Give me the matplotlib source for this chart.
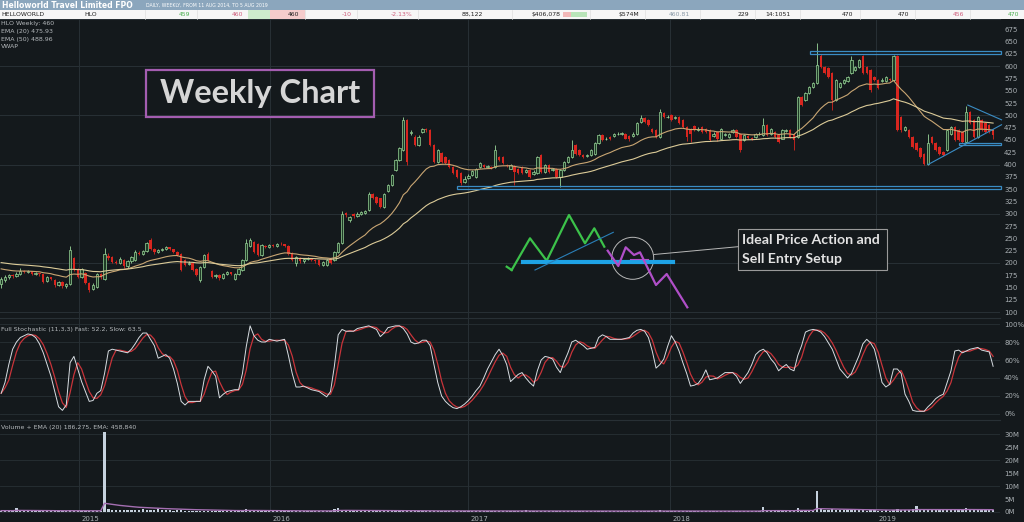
import datetime as dt
import numpy as np
import pandas as pd
import matplotlib
matplotlib.use("Agg")
import matplotlib.pyplot as plt
from matplotlib.patches import Rectangle, Circle

# weekly HLO candles, 11 Aug 2014 .. 5 Aug 2019
opens = [158, 166, 172, 175, 173, 178, 184, 182, 183, 178,
         179, 177, 163, 171, 166, 156, 162, 153, 158, 210,
         188, 172, 180, 160, 146, 152, 177, 167, 215, 212,
         202, 200, 206, 193, 203, 206, 221, 219, 225, 246,
         228, 222, 226, 229, 232, 228, 223, 219, 205, 198,
         200, 188, 165, 192, 218, 183, 174, 176, 170, 178,
         181, 168, 178, 186, 205, 235, 243, 238, 217, 235,
         233, 236, 235, 239, 238, 234, 221, 199, 211, 204,
         208, 209, 205, 205, 196, 195, 207, 205, 222, 240,
         301, 288, 299, 296, 300, 302, 307, 341, 335, 331,
         314, 346, 358, 389, 409, 430, 491, 465, 457, 440,
         467, 472, 470, 440, 406, 423, 416, 409, 396, 389,
         382, 365, 372, 379, 375, 396, 400, 396, 395, 396,
         416, 416, 400, 392, 397, 392, 395, 385, 388, 380,
         382, 419, 385, 399, 388, 392, 375, 388, 405, 416,
         439, 429, 420, 417, 419, 422, 443, 460, 451, 456,
         458, 462, 463, 463, 458, 458, 463, 487, 494, 490,
         473, 470, 456, 504, 496, 500, 494, 497, 490, 477,
         473, 478, 470, 476, 473, 470, 458, 467, 453, 460,
         456, 467, 470, 463, 450, 458, 454, 456, 462, 460,
         480, 463, 467, 460, 453, 469, 470, 463, 456, 538,
         531, 545, 558, 565, 620, 599, 596, 586, 531, 558,
         565, 569, 586, 592, 599, 620, 599, 592, 579, 572,
         570, 569, 574, 572, 620, 497, 470, 470, 456, 443,
         433, 422, 402, 456, 443, 436, 426, 429, 463, 477,
         470, 467, 446, 507, 490, 456, 490, 484, 480, 470]
highs = [172, 175, 178, 178, 182, 190, 186, 185, 184, 181,
         180, 178, 174, 172, 167, 164, 163, 160, 234, 212,
         190, 190, 182, 162, 160, 180, 180, 230, 220, 214,
         206, 212, 208, 205, 214, 226, 224, 226, 242, 250,
         230, 228, 231, 234, 233, 229, 224, 221, 207, 203,
         201, 190, 194, 218, 222, 186, 178, 177, 180, 184,
         182, 180, 190, 207, 248, 250, 245, 240, 238, 237,
         238, 238, 241, 242, 239, 236, 223, 214, 213, 210,
         212, 211, 208, 206, 204, 207, 209, 224, 242, 305,
         304, 296, 302, 303, 306, 307, 345, 343, 337, 333,
         343, 361, 381, 411, 436, 497, 493, 470, 460, 460,
         475, 474, 472, 442, 432, 425, 418, 411, 398, 391,
         384, 376, 380, 388, 394, 405, 402, 399, 398, 440,
         418, 418, 402, 401, 399, 394, 397, 392, 390, 388,
         418, 421, 401, 401, 394, 394, 390, 407, 418, 450,
         441, 431, 422, 421, 431, 445, 462, 462, 456, 458,
         465, 466, 466, 465, 460, 466, 486, 500, 496, 492,
         475, 472, 512, 506, 500, 502, 499, 499, 492, 479,
         475, 480, 476, 478, 475, 472, 466, 469, 475, 465,
         464, 472, 472, 465, 462, 460, 456, 465, 466, 494,
         482, 475, 469, 462, 472, 472, 472, 465, 540, 540,
         547, 560, 567, 647, 625, 601, 598, 588, 574, 567,
         574, 581, 620, 601, 615, 622, 601, 594, 581, 574,
         576, 581, 576, 622, 622, 499, 479, 472, 458, 445,
         435, 424, 463, 458, 445, 438, 428, 472, 479, 479,
         472, 469, 520, 509, 492, 499, 492, 486, 482, 472]
lows = [150, 162, 168, 170, 171, 176, 179, 179, 176, 175,
        174, 160, 161, 165, 152, 153, 150, 148, 156, 183,
        170, 170, 157, 140, 144, 150, 168, 165, 206, 200,
        197, 198, 190, 190, 200, 204, 216, 217, 223, 226,
        218, 220, 224, 227, 226, 221, 214, 183, 194, 196,
        183, 173, 162, 190, 203, 169, 170, 166, 168, 176,
        175, 165, 176, 184, 203, 232, 220, 214, 215, 230,
        231, 233, 233, 236, 233, 217, 203, 194, 200, 200,
        205, 203, 200, 193, 194, 193, 198, 203, 220, 238,
        294, 284, 292, 294, 298, 300, 305, 329, 319, 312,
        312, 344, 356, 387, 407, 428, 400, 460, 438, 438,
        465, 466, 438, 404, 404, 404, 401, 394, 380, 373,
        358, 362, 370, 377, 372, 394, 393, 393, 390, 394,
        407, 401, 395, 390, 358, 380, 380, 383, 373, 378,
        380, 383, 383, 383, 386, 373, 354, 386, 403, 414,
        420, 417, 413, 415, 417, 420, 441, 448, 449, 449,
        456, 460, 460, 451, 448, 456, 461, 485, 485, 478,
        465, 454, 454, 495, 494, 488, 492, 482, 475, 448,
        446, 468, 468, 465, 465, 448, 456, 448, 451, 458,
        454, 465, 454, 426, 448, 452, 450, 454, 460, 458,
        458, 461, 454, 444, 451, 467, 454, 429, 454, 519,
        529, 543, 556, 563, 597, 584, 577, 510, 529, 556,
        563, 567, 584, 590, 597, 584, 584, 548, 570, 553,
        568, 567, 570, 570, 468, 466, 468, 454, 434, 427,
        414, 400, 400, 441, 427, 420, 417, 427, 461, 448,
        448, 444, 444, 482, 454, 454, 468, 465, 464, 452]
closes = [168, 172, 175, 173, 178, 184, 182, 183, 178, 179,
          177, 162, 171, 167, 155, 161, 153, 158, 226, 188,
          172, 187, 159, 145, 155, 178, 172, 219, 211, 202,
          200, 208, 193, 203, 212, 222, 219, 224, 240, 229,
          222, 226, 229, 232, 228, 223, 217, 186, 196, 200,
          186, 176, 192, 216, 206, 172, 175, 169, 178, 181,
          177, 178, 188, 205, 241, 246, 223, 217, 236, 233,
          236, 235, 239, 238, 235, 219, 206, 212, 203, 208,
          210, 205, 204, 195, 201, 205, 200, 222, 240, 300,
          297, 294, 295, 300, 303, 305, 341, 331, 321, 314,
          341, 358, 379, 409, 433, 491, 406, 467, 440, 457,
          472, 470, 440, 406, 430, 406, 403, 396, 382, 375,
          362, 370, 377, 386, 392, 403, 396, 397, 394, 430,
          409, 403, 397, 399, 385, 382, 382, 388, 375, 385,
          416, 385, 399, 385, 392, 375, 388, 405, 416, 429,
          422, 419, 415, 419, 429, 443, 460, 450, 453, 451,
          463, 463, 464, 453, 451, 463, 484, 494, 487, 480,
          467, 456, 507, 497, 497, 490, 497, 484, 477, 456,
          463, 470, 473, 467, 467, 450, 463, 451, 473, 462,
          462, 470, 456, 429, 460, 455, 453, 463, 463, 480,
          460, 473, 456, 446, 470, 470, 456, 450, 538, 521,
          545, 558, 565, 603, 599, 586, 579, 531, 572, 565,
          572, 579, 613, 599, 613, 586, 586, 552, 572, 555,
          572, 579, 572, 620, 470, 470, 477, 456, 436, 429,
          416, 402, 443, 443, 429, 422, 419, 470, 477, 450,
          450, 446, 507, 484, 456, 497, 470, 467, 466, 460]

# full stochastic fast line (%), read per week
stoch_fast = [23, 35, 55, 72, 80, 85, 87, 89, 88, 85,
              78, 68, 55, 42, 25, 8, 4, 10, 57, 64,
              50, 36, 25, 14, 15, 23, 26, 45, 70, 72,
              71, 70, 69, 68, 72, 78, 85, 90, 90, 83,
              76, 62, 64, 66, 62, 50, 34, 14, 10, 14,
              14, 14, 14, 38, 53, 48, 42, 18, 22, 25,
              26, 27, 27, 45, 75, 98, 87, 82, 80, 80,
              83, 82, 81, 82, 83, 65, 45, 30, 30, 31,
              29, 27, 26, 25, 22, 19, 25, 53, 88, 94,
              92, 92, 92, 95, 96, 97, 98, 96, 94, 86,
              90, 96, 97, 98, 98, 95, 89, 80, 78, 79,
              82, 82, 76, 55, 35, 20, 14, 10, 7, 6,
              8, 11, 15, 20, 26, 31, 40, 50, 58, 66,
              72, 65, 55, 36, 40, 44, 46, 40, 35, 31,
              48, 60, 64, 63, 61, 52, 46, 58, 68, 80,
              82, 79, 76, 72, 73, 74, 85, 88, 86, 83,
              83, 83, 83, 84, 85, 90, 93, 94, 92, 85,
              70, 51, 55, 61, 75, 87, 80, 70, 57, 45,
              31, 32, 34, 40, 49, 38, 39, 40, 43, 46,
              46, 46, 42, 34, 40, 46, 55, 66, 70, 72,
              68, 61, 56, 48, 52, 55, 50, 48, 65, 76,
              91, 93, 94, 93, 91, 86, 79, 72, 61, 50,
              45, 40, 45, 55, 65, 78, 83, 79, 72, 55,
              35, 30, 33, 50, 50, 45, 22, 14, 4, 3,
              3, 3, 8, 12, 17, 20, 22, 35, 48, 70,
              71, 68, 70, 72, 73, 74, 71, 70, 69, 53]

# weekly volume, millions of shares
volume_m = [0.5, 0.6, 0.4, 0.5, 1.5, 0.6, 0.5, 0.4, 0.5, 0.4,
            0.4, 0.5, 0.3, 0.4, 0.5, 0.4, 0.3, 0.4, 0.6, 0.5,
            0.4, 0.3, 0.4, 0.5, 0.4, 0.3, 0.4, 31.0, 1.2, 0.9,
            0.8, 0.7, 0.9, 0.6, 0.8, 0.7, 0.6, 1.0, 0.8, 0.7,
            0.6, 1.1, 0.7, 0.6, 0.8, 0.5, 0.6, 0.7, 0.5, 0.4,
            0.5, 0.4, 0.5, 0.4, 0.3, 0.4, 0.3, 0.4, 0.3, 0.4,
            0.3, 0.4, 0.4, 0.5, 1.1, 0.6, 0.5, 0.4, 0.5, 0.4,
            0.4, 0.3, 0.4, 0.3, 0.4, 0.3, 0.4, 0.5, 0.3, 0.3,
            0.4, 0.3, 0.3, 0.4, 0.3, 0.4, 0.5, 1.0, 1.6, 0.9,
            0.6, 0.5, 0.4, 0.5, 0.4, 0.3, 0.5, 0.4, 0.4, 0.3,
            0.4, 0.3, 0.5, 0.6, 0.4, 0.8, 0.5, 0.4, 0.3, 0.4,
            0.3, 0.4, 0.3, 0.4, 0.3, 0.3, 0.4, 0.3, 0.4, 0.3,
            0.3, 0.4, 0.3, 0.3, 0.4, 0.5, 0.3, 0.3, 0.4, 0.3,
            0.5, 0.3, 0.4, 0.3, 0.4, 0.3, 0.3, 0.6, 0.3, 0.4,
            0.3, 0.4, 0.3, 0.3, 0.5, 0.3, 0.3, 0.4, 0.3, 0.3,
            0.4, 0.3, 0.3, 0.5, 0.3, 0.3, 0.4, 0.3, 0.3, 0.4,
            0.3, 0.3, 0.4, 0.3, 0.5, 0.3, 0.3, 0.4, 0.5, 0.3,
            0.3, 0.4, 0.6, 0.3, 0.3, 0.4, 0.3, 0.3, 0.3, 0.4,
            0.3, 0.3, 0.3, 0.4, 0.3, 0.3, 0.3, 0.4, 0.3, 0.3,
            0.3, 0.3, 0.4, 0.5, 0.3, 0.3, 0.3, 0.4, 0.3, 2.0,
            0.6, 0.5, 0.6, 0.5, 0.4, 0.4, 0.4, 0.5, 1.6, 0.6,
            0.5, 0.6, 0.7, 7.9, 1.0, 0.9, 0.8, 1.2, 0.7, 0.6,
            0.7, 0.6, 0.8, 0.6, 0.7, 0.6, 0.5, 0.8, 0.6, 0.5,
            0.5, 0.6, 0.5, 0.7, 1.1, 0.9, 0.7, 0.6, 1.0, 2.3,
            0.9, 0.8, 1.0, 0.8, 0.9, 0.7, 0.8, 1.0, 0.8, 0.9,
            1.1, 0.8, 1.4, 0.9, 0.8, 0.9, 0.8, 0.7, 0.8, 0.6]

years = [2015, 2016, 2017, 2018, 2019]
year_weeks = [20.4, 70.3, 122.0, 174.7, 228.5]   # where the year breaks sit on the week axis
ema20_start, ema50_start, vol_ema_start = 190, 202, 0.5

price_ticks = list(range(100, 700, 25))
stoch_ticks = [0, 20, 40, 60, 80, 100]
vol_ticks = [0, 5, 10, 15, 20, 25, 30]


def ema(values, span, seed):
    alpha = 2.0 / (span + 1)
    out, e = [], seed
    for v in values:
        e = e + alpha * (v - e)
        out.append(e)
    return np.array(out)


o = np.array(opens, float)
h = np.array(highs, float)
l = np.array(lows, float)
c = np.array(closes, float)
wk = np.arange(len(c))
up = c >= o
ema20 = ema(c, 20, ema20_start)
ema50 = ema(c, 50, ema50_start)
fast = np.array(stoch_fast, float)
slow = pd.Series(fast).rolling(3, min_periods=1).mean().values
vol = np.array(volume_m)
vol_ema = ema(vol, 20, vol_ema_start)

BG = "#14191c"
GRID = "#283035"
TXT = "#a9afb3"
GREEN = "#9ad89a"
RED = "#d8261f"
BLUE = "#3a8cc4"

W, H = 1024, 522
XMIN, XMAX = -0.3, 260.8
fig = plt.figure(figsize=(W / 100, H / 100), dpi=100, facecolor=BG)


def px_axes(x0, y0, x1, y1):
    return fig.add_axes([x0 / W, 1 - y1 / H, (x1 - x0) / W, (y1 - y0) / H])


ax = px_axes(0, 19, 1000, 318)
ax_st = px_axes(0, 318, 1000, 420)
ax_v = px_axes(0, 420, 1000, 513)

for a in (ax, ax_st, ax_v):
    a.set_facecolor(BG)
    a.set_xlim(XMIN, XMAX)
    a.set_xticks([])
    for s in a.spines.values():
        s.set_visible(False)
    a.spines["top"].set_visible(True)
    a.spines["top"].set_color(GRID)
    a.yaxis.tick_right()
    a.tick_params(axis="y", length=0, pad=3, labelsize=5, labelcolor=TXT)
    for yx in year_weeks:
        a.axvline(yx, color=GRID, lw=0.7, zorder=0)

# price panel
ax.set_ylim(88, 696)
ax.set_yticks(price_ticks)
ax.set_yticklabels([str(t) for t in price_ticks])
for g in range(100, 700, 100):
    ax.axhline(g, color=GRID, lw=0.7, zorder=0)

ax.vlines(wk, l, h, colors=np.where(up, GREEN, RED), lw=0.6, zorder=2)
ax.bar(wk[up], (c - o)[up], bottom=o[up], width=0.62, facecolor="#1d3a25",
       edgecolor=GREEN, lw=0.5, zorder=3)
ax.bar(wk[~up], (o - c)[~up], bottom=c[~up], width=0.62, color=RED, lw=0, zorder=3)
ax.plot(wk, ema20, color="#c9a673", lw=0.8, zorder=4)
ax.plot(wk, ema50, color="#dccb98", lw=0.8, zorder=4)

# support / resistance boxes and triangle
ax.add_patch(Rectangle((211.2, 624.5), 49.8, 5.5, fill=False, edgecolor=BLUE, lw=0.9, clip_on=False, zorder=5))
ax.add_patch(Rectangle((119.0, 351.0), 142.0, 6.0, fill=False, edgecolor=BLUE, lw=0.9, clip_on=False, zorder=5))
ax.add_patch(Rectangle((250.1, 440.0), 10.9, 4.0, fill=False, edgecolor=BLUE, lw=0.9, clip_on=False, zorder=5))
ax.plot([252.4, 261.2], [521, 491], color=BLUE, lw=0.8, clip_on=False, zorder=5)
ax.plot([242.0, 261.2], [400, 481], color=BLUE, lw=0.8, clip_on=False, zorder=5)

# stochastic panel
ax_st.set_ylim(-6.7, 106.7)
ax_st.set_yticks(stoch_ticks)
ax_st.set_yticklabels([f"{t}%" for t in stoch_ticks])
for g in stoch_ticks:
    ax_st.axhline(g, color=GRID, lw=0.6, zorder=0)
ax_st.plot(wk, slow, color="#c8343a", lw=0.9)
ax_st.plot(wk, fast, color="#d8dde2", lw=0.7)

# volume panel
ax_v.set_ylim(-0.4, 35.5)
ax_v.set_yticks(vol_ticks)
ax_v.set_yticklabels([f"{t}M" for t in vol_ticks])
for g in (0, 10, 20, 30):
    ax_v.axhline(g, color=GRID, lw=0.6, zorder=0)
ax_v.bar(wk, vol, width=0.6, color="#c6d2de", lw=0, zorder=2)
ax_v.plot(wk, vol_ema, color="#a56fb2", lw=1.0, zorder=3)
for yx, y in zip(year_weeks, years):
    ax_v.annotate(str(y), (yx, 0), xycoords=("data", "axes fraction"),
                  xytext=(1.5, -4.5), textcoords="offset points",
                  fontsize=5, color=TXT, va="center", annotation_clip=False)

# overlay in pixel coordinates for header and hand drawn notes
ov = fig.add_axes([0, 0, 1, 1], zorder=10)
ov.set_xlim(0, W)
ov.set_ylim(H, 0)
ov.axis("off")
ov.patch.set_alpha(0)

ov.add_patch(Rectangle((0, 0), W, 9.5, color="#8ba6bd", lw=0))
ov.text(2, 5, "Helloworld Travel Limited FPO", fontsize=5.5, fontweight="bold",
        color="white", va="center")
ov.text(146, 5.2, "DAILY, WEEKLY, FROM 11 AUG 2014, TO 5 AUG 2019", fontsize=3.3,
        color="white", va="center")
ov.add_patch(Rectangle((0, 10), W, 8.5, color="#f6f6f6", lw=0))
ov.add_patch(Rectangle((248, 10), 22, 8.5, color="#cdeccd", lw=0))
ov.add_patch(Rectangle((270, 10), 35, 8.5, color="#f5cccc", lw=0))
for sx in (145, 197, 305, 357, 418, 512, 590, 645, 700, 755, 800, 860, 915, 970):
    ov.plot([sx, sx], [10, 18.5], color="#dedede", lw=0.5)
ov.add_patch(Rectangle((563, 11.5), 8, 5.5, color="#f2b8b8", lw=0))
ov.add_patch(Rectangle((571, 11.5), 16, 5.5, color="#b8e4b8", lw=0))

GRN_T, PNK_T, BLK_T = "#4caf50", "#d0607e", "#202020"
quote = [(1, "HELLOWORLD", BLK_T, "left"), (84, "HLO", BLK_T, "left"),
         (190, "459", GRN_T, "right"), (243, "460", PNK_T, "right"),
         (299, "460", BLK_T, "right"), (352, "-10", PNK_T, "right"),
         (412, "-2.13%", PNK_T, "right"), (483, "88,122", BLK_T, "right"),
         (561, "$406,078", BLK_T, "right"), (639, "$574M", BLK_T, "right"),
         (690, "460.81", "#8a9aa8", "right"), (749, "229", BLK_T, "right"),
         (765, "14:1051", BLK_T, "left"), (853, "470", BLK_T, "right"),
         (909, "470", BLK_T, "right"), (964, "456", PNK_T, "right"),
         (1019, "470", GRN_T, "right")]
for qx, qt, qc, qa in quote:
    ov.text(qx, 14.5, qt, fontsize=4.4, color=qc, ha=qa, va="center")

legend_lines = ["HLO Weekly: 460", "EMA (20) 475.93", "EMA (50) 488.96", "VWAP"]
for k, t in enumerate(legend_lines):
    ov.text(1, 24 + 7.5 * k, t, fontsize=4.5, color="#b5b9bc", va="center")
ov.text(1, 330, "Full Stochastic (11,3,3) Fast: 52.2, Slow: 63.5", fontsize=4.5,
        color="#b5b9bc", va="center")
ov.text(1, 428, "Volume + EMA (20) 186,275, EMA: 458,840", fontsize=4.5,
        color="#b5b9bc", va="center")

# "Weekly Chart" title box
ov.add_patch(Rectangle((146, 69.5), 228, 47.5, fill=False, edgecolor="#a45db0", lw=1.6))
ov.text(260, 93, "Weekly Chart", fontsize=23.5, fontweight="bold", family="Lato",
        color="#d6d6d6", ha="center", va="center")

# sketch of the ideal setup
ov.plot([506.7, 511.7], [266.7, 270], color="#3cc24a", lw=1.6)
ov.plot([511.7, 530, 546.7, 569, 585, 594.3, 604.3],
        [270, 238.3, 260.7, 215, 243.3, 228.3, 246.7], color="#3cc24a", lw=1.6)
ov.plot([523.3, 672.7], [262.3, 262.3], color="#1ea3e6", lw=3.0)
ov.plot([535, 613.3], [270, 232.3], color="#2a7fb8", lw=0.8)
ov.plot([607.7, 618.3, 625.7, 634, 640, 656, 666.7, 687.3],
        [250.7, 266, 247.3, 255, 252.3, 285, 274, 307.3], color="#b04fc8", lw=1.6)
ov.plot([630, 648], [258.5, 258.5], color="#b04fc8", lw=0.8)
ov.add_patch(Circle((632.7, 258.3), 21, fill=False, edgecolor="#b8b8b8", lw=0.7))
ov.plot([654, 738], [254.5, 246.7], color="#b8b8b8", lw=0.7)
ov.add_patch(Rectangle((737.7, 229.3), 149.6, 40.7, facecolor=BG, edgecolor="#9a9a9a", lw=0.8))
ov.text(742, 240, "Ideal Price Action and", fontsize=10.2, fontweight="bold", family="Lato",
        color="#e2e2e2", va="center")
ov.text(742, 259, "Sell Entry Setup", fontsize=10.2, fontweight="bold", family="Lato",
        color="#e2e2e2", va="center")

fig.savefig("out.png", dpi=100, facecolor=BG)
